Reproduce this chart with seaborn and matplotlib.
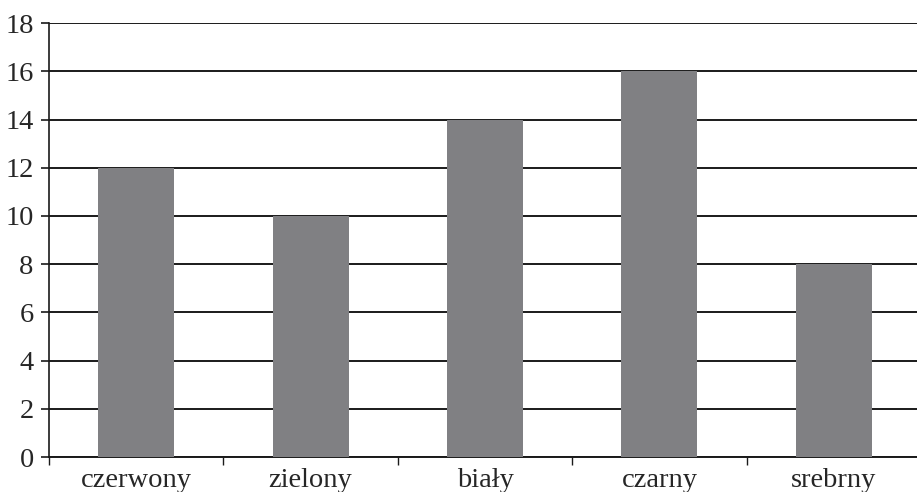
import numpy as np
import matplotlib.pyplot as plt
import pandas as pd
import seaborn as sns

# Data
colors = ['czerwony', 'zielony', 'biały', 'czarny', 'srebrny']
counts = [12, 10, 14, 16, 8]
y_ticks = [0, 2, 4, 6, 8, 10, 12, 14, 16, 18]

df = pd.DataFrame({'kolor': colors, 'liczba': counts})

sns.set_style('white')
plt.rcParams['font.family'] = ['Liberation Serif', 'DejaVu Serif']

fig = plt.figure(figsize=(9.17, 4.92), dpi=100)
ax = fig.add_axes([49 / 917, 0.071, 872 / 917, 0.882])

sns.barplot(data=df, x='kolor', y='liczba', color='#808083', width=0.435,
            saturation=1, linewidth=0, ax=ax, zorder=3)

# horizontal gridlines
for v in y_ticks:
    ax.axhline(v, color='#1a1a1a', lw=1.4, zorder=1)

ax.set_ylim(0, 18)
ax.set_xlim(-0.5, len(colors) - 0.5)
ax.set_yticks(y_ticks)
ax.set_xlabel('')
ax.set_ylabel('')

# category boundary ticks
ax.set_xticks(np.arange(-0.5, len(colors)), minor=True)
ax.tick_params(axis='x', which='major', length=0, pad=8, labelsize=20.5)
ax.tick_params(axis='x', which='minor', length=6, width=1, color='#1a1a1a',
               direction='out', bottom=True)
ax.tick_params(axis='y', length=6, width=1.2, color='#1a1a1a', direction='out',
               left=True, labelsize=20.5, pad=5)

for s in ['top', 'right']:
    ax.spines[s].set_visible(False)
ax.spines['left'].set_color('#1a1a1a')
ax.spines['left'].set_linewidth(1.2)
ax.spines['bottom'].set_color('#1a1a1a')
ax.spines['bottom'].set_linewidth(1.4)

fig.savefig('out.png', dpi=100)
